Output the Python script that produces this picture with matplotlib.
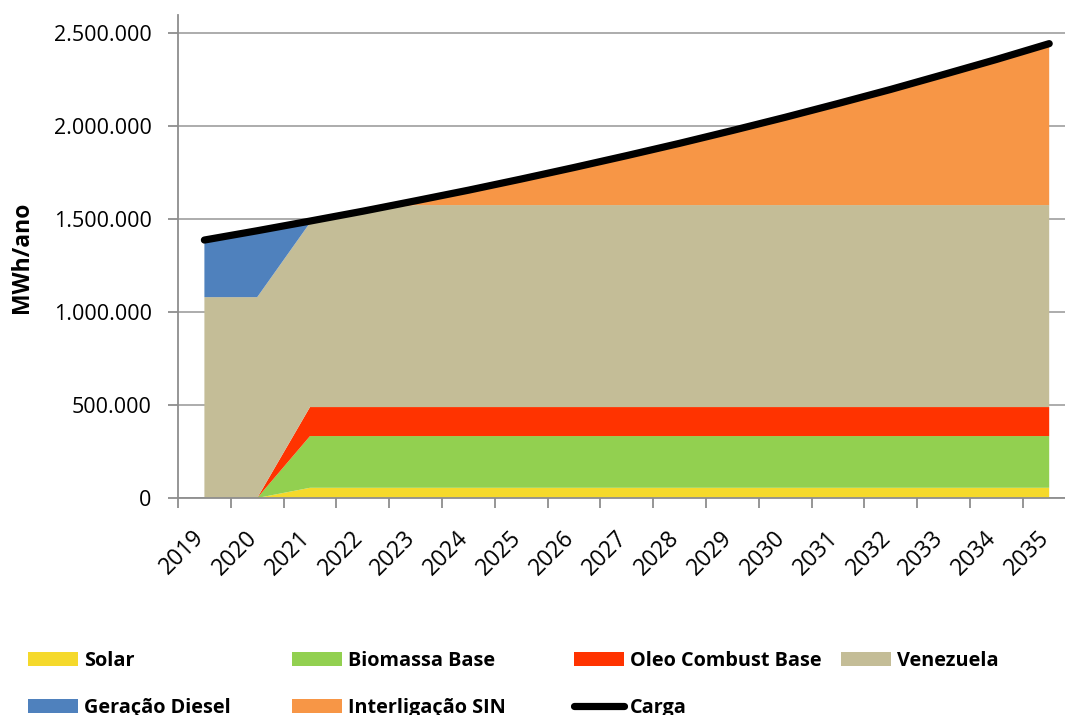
import matplotlib
matplotlib.use("Agg")
import matplotlib.pyplot as plt
import matplotlib.ticker as mticker
from matplotlib.patches import Patch
from matplotlib.lines import Line2D
import numpy as np

plt.rcParams['font.family'] = ['Open Sans', 'DejaVu Sans']

years = [str(y) for y in range(2019, 2036)]
solar =      [0, 0, 55000, 55000, 55000, 55000, 55000, 55000, 55000, 55000, 55000, 55000, 55000, 55000, 55000, 55000, 55000]
biomassa =   [0, 0, 278000, 278000, 278000, 278000, 278000, 278000, 278000, 278000, 278000, 278000, 278000, 278000, 278000, 278000, 278000]
oleo =       [0, 0, 156000, 156000, 156000, 156000, 156000, 156000, 156000, 156000, 156000, 156000, 156000, 156000, 156000, 156000, 156000]
venezuela =  [1080000, 1080000, 991000, 1053000, 1086000, 1086000, 1086000, 1086000, 1086000, 1086000, 1086000, 1086000, 1086000, 1086000, 1086000, 1086000, 1086000]
diesel =     [307000, 357000, 0, 0, 0, 0, 0, 0, 0, 0, 0, 0, 0, 0, 0, 0, 0]
sin =        [0, 0, 0, 0, 23000, 80000, 140000, 202000, 266000, 332000, 401000, 472000, 546000, 622000, 702000, 783000, 868000]
carga =      [1387000, 1437000, 1489000, 1542000, 1598000, 1655000, 1715000, 1777000, 1841000, 1907000, 1976000, 2047000, 2121000, 2197000, 2277000, 2358000, 2443000]

series_names = ["Solar", "Biomassa Base", "Oleo Combust Base", "Venezuela", "Geração Diesel", "Interligação SIN"]
series_vals = [solar, biomassa, oleo, venezuela, diesel, sin]
colors = ["#F5D92B", "#92D050", "#FF3300", "#C4BD97", "#4F81BD", "#F79646"]

W, H = 1065, 715
fig = plt.figure(figsize=(W / 100, H / 100), dpi=100)
ax_left, ax_right, ax_bottom, ax_top = 178, 1075.6, 498, 15
ax = fig.add_axes([ax_left / W, 1 - ax_bottom / H, (ax_right - ax_left) / W, (ax_bottom - ax_top) / H])

x = np.arange(len(years))
ax.stackplot(x, *series_vals, colors=colors, labels=series_names, linewidth=0, zorder=2)
ax.plot(x, carga, color="black", lw=5.2, solid_capstyle="round", zorder=3, label="Carga")

ax.set_xlim(-0.5, len(years) - 0.5)
ax.set_ylim(0, 2597000)
ax.yaxis.set_major_locator(mticker.MultipleLocator(500000))
ax.yaxis.set_major_formatter(mticker.FuncFormatter(lambda v, p: f"{int(round(v)):,}".replace(",", ".")))
ax.grid(axis="y", color="#a6a6a6", lw=1.3, zorder=1)
ax.set_axisbelow(True)

ax.set_xticks(x)
ax.set_xticklabels(years, rotation=45, ha="right", va="top", fontsize=16.5)
ax.set_xticks(np.arange(-0.5, len(years), 1), minor=True)
ax.tick_params(axis="x", which="major", length=0, pad=20)
ax.tick_params(axis="x", which="minor", length=7, width=1.3, color="#8e8e8e", direction="out")
ax.tick_params(axis="y", length=7, width=1.3, color="#8e8e8e", direction="out", pad=12, labelsize=15.5)
for lbl in ax.get_xticklabels():
    lbl.set_transform(lbl.get_transform() + matplotlib.transforms.ScaledTranslation(5 / 100, 0, fig.dpi_scale_trans))

for s in ["top", "right"]:
    ax.spines[s].set_visible(False)
for s in ["left", "bottom"]:
    ax.spines[s].set_color("#8e8e8e")
    ax.spines[s].set_linewidth(1.3)

fig.text(22 / W, 1 - 257 / H, "MWh/ano", rotation=90, ha="center", va="center",
         fontsize=16.5, fontweight="bold")

# legend: four columns placed explicitly
handles = {n: Patch(facecolor=c, edgecolor="none") for n, c in zip(series_names, colors)}
handles["Carga"] = Line2D([], [], color="black", lw=5.2, solid_capstyle="round")
columns = [
    (28, ["Solar", "Geração Diesel"]),
    (292, ["Biomassa Base", "Interligação SIN"]),
    (574, ["Oleo Combust Base", "Carga"]),
    (841, ["Venezuela"]),
]
for xpx, names in columns:
    leg = fig.legend([handles[n] for n in names], names, loc="upper left",
                     bbox_to_anchor=(xpx / W, 1 - 651 / H), frameon=False,
                     prop={"weight": "bold", "size": 14.3}, handlelength=2.5,
                     handleheight=0.7, handletextpad=0.3, labelspacing=1.35,
                     borderpad=0, borderaxespad=0)

fig.savefig("out.png", dpi=100)
